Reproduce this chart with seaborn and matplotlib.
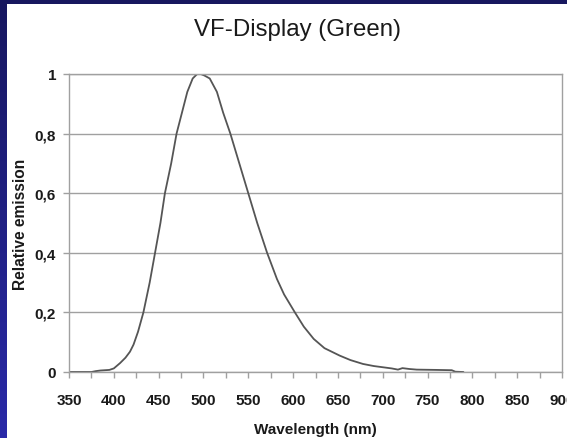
import matplotlib
matplotlib.use("Agg")
import matplotlib.pyplot as plt
from matplotlib.ticker import MultipleLocator, FuncFormatter
import numpy as np
import pandas as pd
import seaborn as sns

# Spectrum (wavelength in nm, relative emission)
wavelength = [350, 375, 380, 385, 395, 400, 407, 413, 418, 422, 427, 433, 440,
              446, 452, 457, 464, 470, 476, 482, 488, 493, 497, 501, 507, 515,
              522, 530, 540, 550, 560, 571, 582, 590, 602, 612, 623, 635, 652,
              664, 678, 690, 700, 710, 717, 722, 730, 738, 760, 777, 781, 790]
emission = [0, 0, 0.003, 0.005, 0.007, 0.012, 0.03, 0.048, 0.068, 0.092, 0.135,
            0.2, 0.3, 0.4, 0.5, 0.6, 0.7, 0.8, 0.87, 0.94, 0.985, 1.0, 1.0,
            0.995, 0.985, 0.94, 0.87, 0.8, 0.7, 0.6, 0.5, 0.4, 0.312, 0.26,
            0.2, 0.152, 0.111, 0.08, 0.055, 0.04, 0.027, 0.02, 0.016, 0.012,
            0.008, 0.013, 0.01, 0.008, 0.007, 0.006, 0.001, 0]
y_ticks = [0, 0.2, 0.4, 0.6, 0.8, 1.0]

df = pd.DataFrame({"wl": wavelength, "em": emission})

sns.set_theme(style="white")
plt.rcParams['font.family'] = ['Liberation Sans', 'DejaVu Sans']

fig = plt.figure(figsize=(5.67, 4.39), dpi=100)
fig.patch.set_facecolor("white")

# navy frame strips (top + left gradient)
top = fig.add_axes([0, 1 - 5 / 439, 1, 5 / 439])
top.set_axis_off()
top.add_patch(plt.Rectangle((0, 0), 1, 1, color="#17175f", transform=top.transAxes))
left = fig.add_axes([0, 0, 7 / 567, 1])
grad = np.linspace(0, 1, 256).reshape(-1, 1)
cmap = matplotlib.colors.LinearSegmentedColormap.from_list("navy", ["#17175f", "#2a2aa8"])
left.imshow(grad, aspect="auto", cmap=cmap, origin="upper")
left.set_axis_off()

ax = fig.add_axes([69 / 567, 1 - 373 / 439, (562 - 69) / 567, (373 - 75) / 439])
sns.lineplot(data=df, x="wl", y="em", color="#555555", linewidth=1.3, ax=ax)

ax.set_xlim(350, 900)
ax.set_ylim(0, 1)
ax.xaxis.set_major_locator(MultipleLocator(50))
ax.xaxis.set_minor_locator(MultipleLocator(25))
ax.set_yticks(y_ticks)
ax.yaxis.set_major_formatter(FuncFormatter(lambda v, p: ("%g" % v).replace(".", ",")))

ax.grid(axis="y", color="#a0a0a0", linewidth=1.0)
ax.set_axisbelow(True)
for s in ax.spines.values():
    s.set_color("#a0a0a0")
    s.set_linewidth(1.0)
ax.tick_params(axis="both", which="both", direction="out", length=4.3, width=1,
               color="#a0a0a0", labelsize=11, labelcolor="#1a1a1a")
ax.tick_params(axis="x", which="both", bottom=True, pad=10.5)
ax.tick_params(axis="y", left=True, pad=5)
for lab in ax.get_xticklabels() + ax.get_yticklabels():
    lab.set_fontweight("bold")

ax.set_xlabel("Wavelength (nm)", fontsize=11, fontweight="bold", color="#1a1a1a", labelpad=11)
ax.set_ylabel("Relative emission", fontsize=11.2, fontweight="bold", color="#1a1a1a", labelpad=5)

fig.text(297.5 / 567, 1 - 30 / 439, "VF-Display (Green)", ha="center", va="center",
         fontsize=17.3, color="#1a1a1a")

fig.savefig("out.png", dpi=100, facecolor="white")
